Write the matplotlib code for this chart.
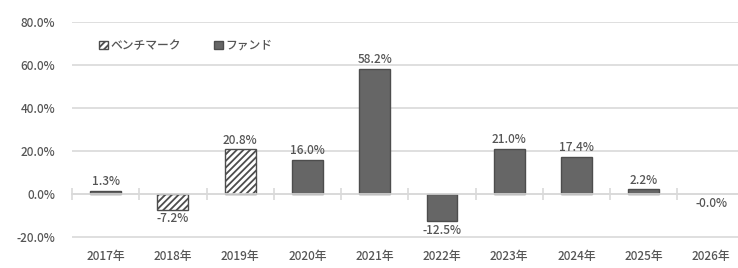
import math
import matplotlib
matplotlib.use("Agg")
import matplotlib.pyplot as plt
from matplotlib.patches import Patch
from matplotlib.transforms import blended_transform_factory

plt.rcParams['font.family'] = ['Noto Sans CJK JP', 'DejaVu Sans']
plt.rcParams['font.weight'] = 'medium'
plt.rcParams['hatch.color'] = '#555555'
plt.rcParams['hatch.linewidth'] = 1.3

# donnees
annees = ['2017年', '2018年', '2019年', '2020年', '2021年',
          '2022年', '2023年', '2024年', '2025年', '2026年']
valeurs = [1.3, -7.2, 20.8, 16.0, 58.2, -12.5, 21.0, 17.4, 2.2, -0.0]
series = ['fund', 'bench', 'bench', 'fund', 'fund',
          'fund', 'fund', 'fund', 'fund', 'fund']
yticks = [-20, 0, 20, 40, 60, 80]

gris_texte = '#555555'
gris_fonce = '#666666'
gris_grille = '#d9d9d9'
taille = 8.5

fig = plt.figure(figsize=(7.38, 2.68), dpi=100)
ax = fig.add_axes([0.0976, 0.1120, 0.9024, 0.8062])

x = list(range(len(annees)))
for xi, v, s in zip(x, valeurs, series):
    if v == 0:
        pass  # barre nulle, seulement l'etiquette
    elif s == 'bench':
        ax.bar(xi, v, width=0.46, color='white', edgecolor='#4d4d4d',
               hatch='/////', linewidth=1.0, zorder=3)
    else:
        ax.bar(xi, v, width=0.46, color=gris_fonce, edgecolor='#4d4d4d',
               linewidth=1.0, zorder=3)
    if math.copysign(1, v) > 0:
        ax.text(xi, v + 1.3, f"{v:.1f}%", ha='center', va='bottom',
                fontsize=taille, color=gris_texte)
    else:
        ax.text(xi, v - 1.3, f"{v:.1f}%", ha='center', va='top',
                fontsize=taille, color=gris_texte)

ax.set_xlim(-0.5, 9.4)
ax.set_ylim(-20.4, 80)
ax.set_yticks(yticks)
ax.set_yticklabels([f"{t:.1f}%" for t in yticks], fontsize=taille, color=gris_texte)
ax.tick_params(axis='y', length=0, pad=12)
ax.yaxis.grid(True, color=gris_grille, linewidth=1.2, zorder=0)

for side in ['top', 'right', 'left']:
    ax.spines[side].set_visible(False)
ax.spines['bottom'].set_position(('data', 0))
ax.spines['bottom'].set_color(gris_grille)
ax.spines['bottom'].set_linewidth(1.2)
ax.spines['bottom'].set_zorder(4)
ax.set_xticks([i - 0.5 for i in range(len(annees))])
ax.set_xticklabels([])
ax.tick_params(axis='x', direction='inout', length=8, width=1.2, color=gris_grille)

trans = blended_transform_factory(ax.transData, ax.transAxes)
for xi, a in zip(x, annees):
    ax.text(xi, -0.055, a, transform=trans, ha='center', va='top',
            fontsize=taille, color=gris_texte)

handles = [Patch(facecolor='white', edgecolor='#4d4d4d', hatch='/////', label='ベンチマーク'),
           Patch(facecolor=gris_fonce, edgecolor='#4d4d4d', label='ファンド')]
ax.legend(handles=handles, loc='upper left', bbox_to_anchor=(0.025, 0.97),
          ncol=2, frameon=False, fontsize=taille, labelcolor=gris_texte,
          handlelength=0.75, handleheight=0.75, handletextpad=0.2, columnspacing=2.8)

fig.savefig('out.png', dpi=100)
